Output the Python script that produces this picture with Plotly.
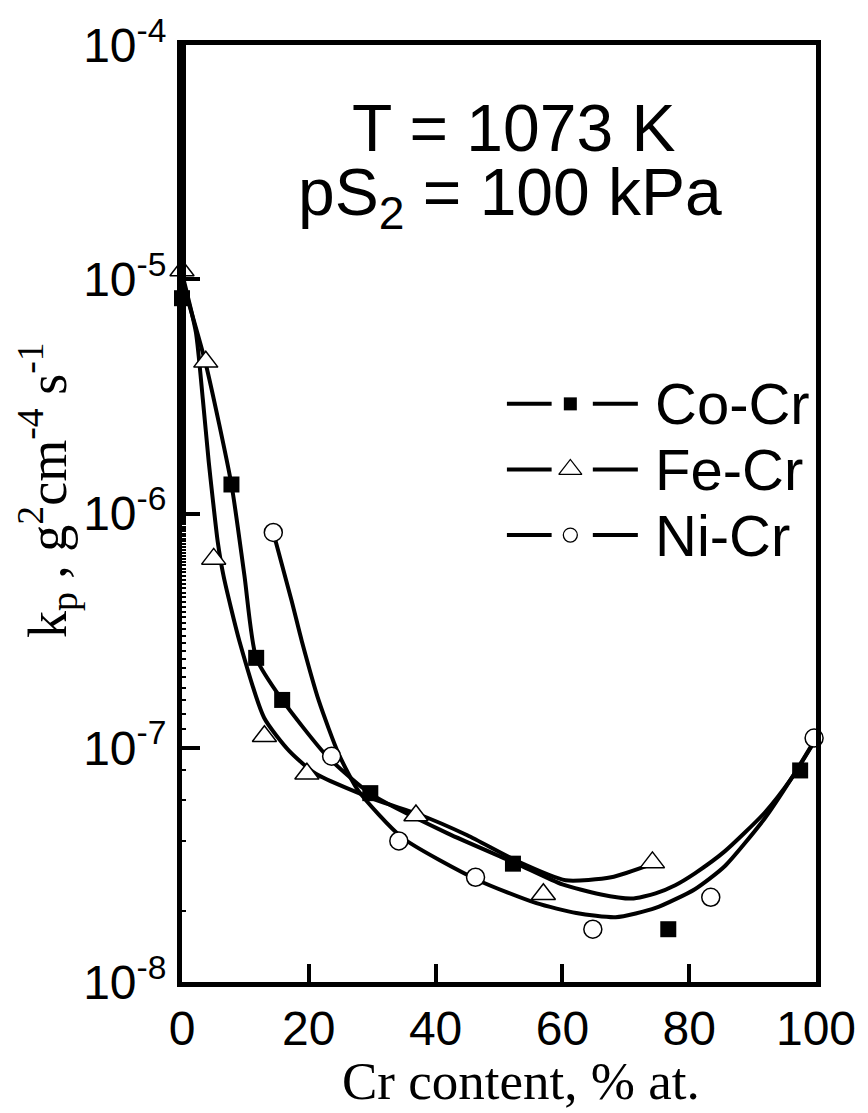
import plotly.graph_objects as go

# ---- measured data points ----
co_x = [0, 7.8, 11.7, 15.8, 29.7, 52.2, 76.7, 97.5]
co_y = [8.3e-6, 1.33e-6, 2.42e-7, 1.60e-7, 6.4e-8, 3.2e-8, 1.68e-8, 8.0e-8]
fe_x = [0, 3.75, 5.0, 13.0, 19.7, 36.9, 57.0, 74.2]
fe_y = [1.09e-5, 4.44e-6, 6.4e-7, 1.12e-7, 7.75e-8, 5.14e-8, 2.37e-8, 3.24e-8]
ni_x = [14.4, 23.6, 34.2, 46.3, 64.8, 83.4, 99.7]
ni_y = [8.3e-7, 9.2e-8, 4.0e-8, 2.8e-8, 1.68e-8, 2.3e-8, 1.10e-7]

# ---- fitted curves ----
co_fit_x = [0.2, 3.75, 7.8, 9.84, 11.7, 15.8, 22.8, 29.7, 41.9, 52.7, 60.0, 65.9, 70.9, 74.7,
            77.8, 80.9, 85.6, 91.9, 96.1, 100]
co_fit_y = [9.53e-6, 4.35e-6, 1.33e-6, 5.45e-7, 2.42e-7, 1.60e-7, 9.25e-8, 6.37e-8, 4.31e-8,
            3.21e-8, 2.61e-8, 2.37e-8, 2.27e-8, 2.39e-8, 2.59e-8, 2.91e-8, 3.61e-8, 5.28e-8,
            7.38e-8, 1.09e-7]
fe_fit_x = [0.16, 2.19, 3.28, 4.22, 4.84, 5.63, 6.56, 9.06, 12.97, 16.9, 21.1, 30.9, 37.0, 45.0,
            52.7, 60.5, 67.7, 74.4]
fe_fit_y = [1.02e-5, 5.94e-6, 3.08e-6, 1.66e-6, 1.16e-6, 7.60e-7, 5.40e-7, 2.85e-7, 1.34e-7,
            9.70e-8, 7.74e-8, 5.94e-8, 5.24e-8, 4.23e-8, 3.30e-8, 2.72e-8, 2.80e-8, 3.21e-8]
ni_fit_x = [14.4, 17.3, 18.9, 21.6, 24.7, 27.8, 34.7, 46.7, 55.9, 62.2, 68.4, 74.7, 80.9, 85.6,
            91.9, 96.1, 100]
ni_fit_y = [8.30e-7, 4.23e-7, 2.85e-7, 1.58e-7, 9.42e-8, 6.56e-8, 4.14e-8, 2.72e-8, 2.17e-8,
            1.97e-8, 1.89e-8, 2.07e-8, 2.49e-8, 3.12e-8, 4.99e-8, 7.38e-8, 1.10e-7]

x_ticks = [0, 20, 40, 60, 80, 100]
y_ticks = [1e-8, 1e-7, 1e-6, 1e-5, 1e-4]
y_ticktext = ["10<sup>-8</sup>", "10<sup>-7</sup>", "10<sup>-6</sup>", "10<sup>-5</sup>", "10<sup>-4</sup>"]

series_names = ["Co-Cr", "Fe-Cr", "Ni-Cr"]

SANS = "Liberation Sans, Arial, sans-serif"
SERIF = "Liberation Serif, Times New Roman, serif"
LW = 4

fig = go.Figure()

# fitted curves
for fx, fy in [(co_fit_x, co_fit_y), (fe_fit_x, fe_fit_y), (ni_fit_x, ni_fit_y)]:
    fig.add_trace(go.Scatter(x=fx, y=fy, mode="lines",
                             line=dict(color="black", width=LW, shape="spline", smoothing=0.6),
                             showlegend=False, hoverinfo="skip"))

marker_styles = [
    dict(symbol="square", size=16, color="black", line=dict(color="black", width=0)),
    dict(symbol="triangle-up", size=21, color="white", line=dict(color="black", width=1.5)),
    dict(symbol="circle", size=18, color="white", line=dict(color="black", width=1.5)),
]
for (px, py), ms, nm in zip([(co_x, co_y), (fe_x, fe_y), (ni_x, ni_y)], marker_styles, series_names):
    fig.add_trace(go.Scatter(x=px, y=py, mode="markers", marker=ms, name=nm, showlegend=False,
                             cliponaxis=False))

# ---- custom legend (line - marker - line) on an overlay axis in plot-fraction coords ----
leg_rows = [0.617, 0.547, 0.477]
leg_marker_styles = [
    dict(symbol="square", size=13, color="black", line=dict(color="black", width=0)),
    dict(symbol="triangle-up", size=20, color="white", line=dict(color="black", width=1.3)),
    dict(symbol="circle", size=14, color="white", line=dict(color="black", width=1.3)),
]
for ry, ms in zip(leg_rows, leg_marker_styles):
    fig.add_trace(go.Scatter(x=[0.6125], y=[ry], xaxis="x2", yaxis="y2", mode="markers", marker=ms,
                             showlegend=False, hoverinfo="skip", cliponaxis=False))

shapes = []
annotations = []
for ry, nm in zip(leg_rows, series_names):
    for x0, x1 in [(0.5125, 0.583), (0.648, 0.719)]:
        shapes.append(dict(type="line", xref="x2", yref="y2", x0=x0, x1=x1, y0=ry, y1=ry,
                           line=dict(color="black", width=LW)))
    annotations.append(dict(text=nm, xref="x2", yref="y2", x=0.743, y=ry, xanchor="left", yanchor="middle",
                            showarrow=False, font=dict(family=SANS, size=58, color="black")))

annotations += [
    dict(text="T = 1073 K", xref="paper", yref="paper", x=0.523, y=0.911, xanchor="center", yanchor="middle",
         showarrow=False, font=dict(family=SANS, size=66, color="black")),
    dict(text="pS<sub>2</sub> = 100 kPa", xref="paper", yref="paper", x=0.518, y=0.838, xanchor="center",
         yanchor="middle", showarrow=False, font=dict(family=SANS, size=66, color="black")),
    dict(text="Cr content, % at.", xref="paper", yref="paper", x=0.535, y=-0.1385, xanchor="center",
         yanchor="bottom", showarrow=False, font=dict(family=SERIF, size=53, color="black")),
    dict(text="k<sub>p</sub> , g<sup>2</sup>cm<sup>-4</sup> s<sup>-1</sup>", xref="paper", yref="paper",
         x=-0.213, y=0.525, xanchor="center", yanchor="middle", textangle=-90, showarrow=False,
         font=dict(family=SERIF, size=54, color="black")),
]

fig.update_layout(
    width=868, height=1113,
    margin=dict(l=182, r=46, t=42, b=131),
    paper_bgcolor="white", plot_bgcolor="white",
    showlegend=False,
    xaxis=dict(range=[0, 100], tickvals=x_ticks, ticks="inside", ticklen=18, tickwidth=4, tickcolor="black",
               showline=True, linewidth=5, linecolor="black", mirror=True, showgrid=False, zeroline=False,
               tickfont=dict(family=SANS, size=48, color="black"), ticklabelstandoff=0),
    yaxis=dict(type="log", range=[-8, -4], tickvals=y_ticks, ticktext=y_ticktext, ticks="inside", ticklen=18,
               tickwidth=4, tickcolor="black", showline=True, linewidth=5, linecolor="black", mirror=True,
               showgrid=False, zeroline=False, tickfont=dict(family=SANS, size=48, color="black"),
               ticklabelstandoff=1,
               minor=dict(ticks="inside", ticklen=4, tickwidth=2, tickcolor="black", showgrid=False)),
    xaxis2=dict(range=[0, 1], overlaying="x", visible=False, anchor="y2"),
    yaxis2=dict(range=[0, 1], overlaying="y", visible=False, anchor="x2"),
    shapes=shapes,
    annotations=annotations,
)

fig.write_html("out.html")
